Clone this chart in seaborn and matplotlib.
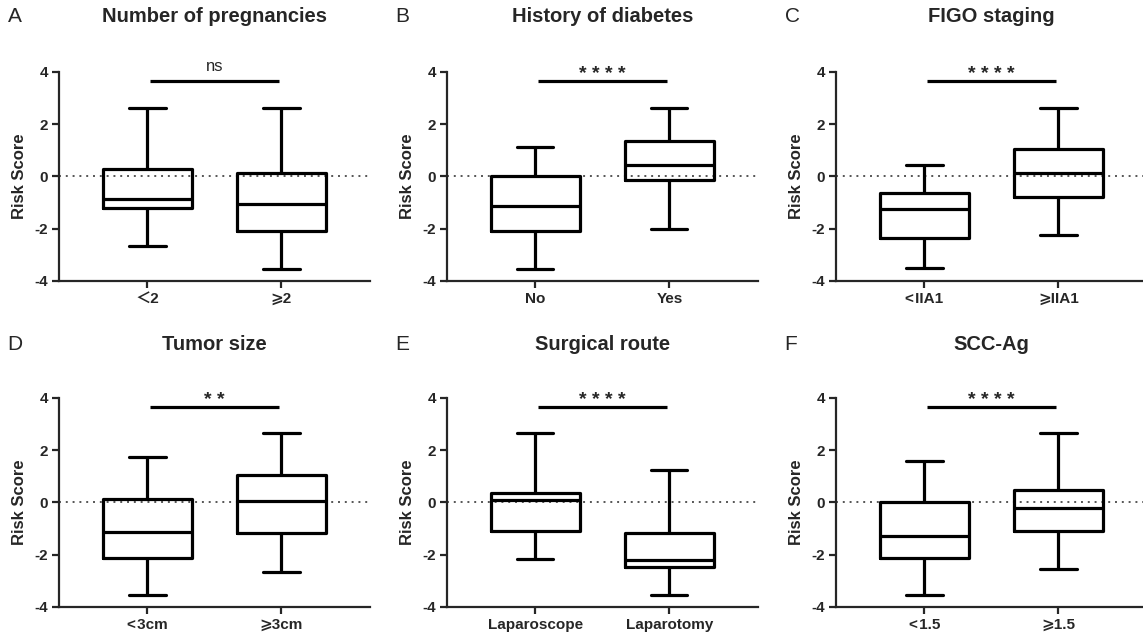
import matplotlib
matplotlib.use("Agg")
import matplotlib.pyplot as plt
import pandas as pd
import seaborn as sns

# Panel texts
panel_letters = ["A", "B", "C", "D", "E", "F"]
panel_titles = ["Number of pregnancies", "History of diabetes", "FIGO staging",
                "Tumor size", "Surgical route", "SCC-Ag"]
group_labels = [["＜2", "⩾2"], ["No", "Yes"], ["<\u200aIIA1", "⩾IIA1"],
                ["<\u200a3cm", "⩾3cm"], ["Laparoscope", "Laparotomy"],
                ["<\u200a1.5", "⩾1.5"]]
significance = ["ns", "* * * *", "* * * *", "* *", "* * * *", "* * * *"]

# Five-number summaries (min to max whiskers)
box_min = [[-2.67, -3.54], [-3.54, -2.03], [-3.51, -2.23],
           [-3.56, -2.66], [-2.17, -3.56], [-3.56, -2.53]]
box_q1 = [[-1.20, -2.07], [-2.07, -0.15], [-2.34, -0.77],
          [-2.12, -1.18], [-1.08, -2.47], [-2.12, -1.08]]
box_median = [[-0.86, -1.05], [-1.15, 0.42], [-1.24, 0.15],
              [-1.12, 0.06], [0.10, -2.19], [-1.29, -0.22]]
box_q3 = [[0.28, 0.13], [0.00, 1.34], [-0.64, 1.05],
          [0.13, 1.04], [0.36, -1.18], [0.00, 0.49]]
box_max = [[2.62, 2.62], [1.12, 2.62], [0.45, 2.63],
           [1.75, 2.64], [2.64, 1.24], [1.58, 2.64]]

Y_TICKS = [-4, -2, 0, 2, 4]

sns.set_style("ticks")
plt.rcParams["font.family"] = ["Liberation Sans", "DejaVu Sans", "Noto Sans CJK SC"]

fig = plt.figure(figsize=(11.43, 6.4), dpi=100)

lefts = [0.0516, 0.391, 0.7314]
bottoms = [0.561, 0.0516]
width, height = 0.272, 0.3266

for i in range(6):
    row, col = divmod(i, 3)
    ax = fig.add_axes([lefts[col], bottoms[row], width, height])

    records = []
    for j, label in enumerate(group_labels[i]):
        for v in (box_min[i][j], box_q1[i][j], box_median[i][j],
                  box_q3[i][j], box_max[i][j]):
            records.append({"group": label, "score": v})
    df = pd.DataFrame(records)

    ax.axhline(0, color="#555555", linestyle=(0, (1, 2.5)), linewidth=1.4, zorder=1)

    sns.boxplot(data=df, x="group", y="score", order=group_labels[i], ax=ax,
                whis=(0, 100), width=0.66, fill=False, color="black",
                linewidth=2.3, capwidths=0.27, showfliers=False)

    ax.set_xlim(-0.66, 1.66)
    ax.set_ylim(-4, 4)
    ax.set_yticks(Y_TICKS)
    ax.set_yticklabels([str(t) for t in Y_TICKS])
    ax.set_xlabel("")
    ax.set_ylabel("Risk Score", fontsize=12, fontweight="bold", labelpad=5)
    sns.despine(ax=ax)
    for side in ("left", "bottom"):
        ax.spines[side].set_linewidth(1.6)
    ax.tick_params(axis="both", width=1.6, length=5, labelsize=11, pad=3)
    for lab in ax.get_xticklabels() + ax.get_yticklabels():
        lab.set_fontweight("bold")

    # significance bar
    ax.plot([0.02, 0.98], [3.65, 3.65], color="black", linewidth=2.3,
            solid_capstyle="butt", clip_on=False)
    sig = significance[i]
    if sig == "ns":
        ax.text(0.5, 4.2, sig, ha="center", va="center", fontsize=12, clip_on=False)
    else:
        ax.text(0.5, 3.92, sig, ha="center", va="center", fontsize=14,
                fontweight="bold", clip_on=False)

    # title and panel letter
    title_y = 1 - (17 + row * 328) / 640
    fig.text(lefts[col] + width / 2, title_y, panel_titles[i], ha="center",
             va="center", fontsize=14.5, fontweight="bold")
    fig.text(lefts[col] - 0.045, title_y, panel_letters[i], ha="left",
             va="center", fontsize=15)

fig.savefig("out.png", dpi=100)
